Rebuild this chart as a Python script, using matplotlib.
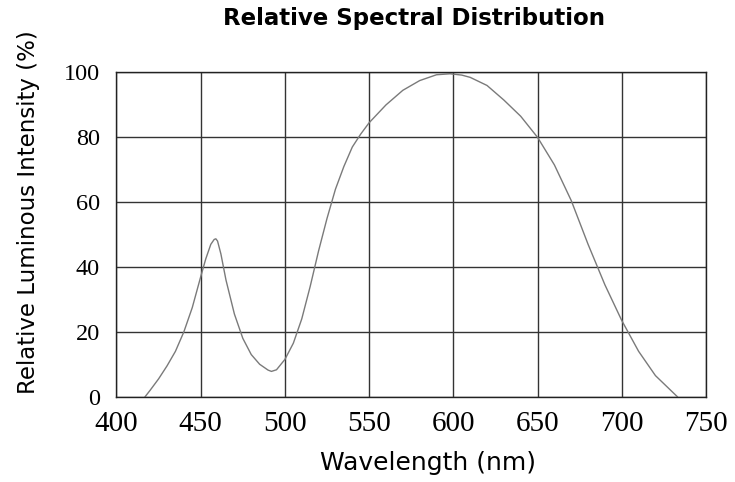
import matplotlib.pyplot as plt

# Relative spectral distribution
wavelength = [417, 420, 425, 430, 435, 440, 445, 450, 453, 456, 458, 459, 460, 462,
              465, 470, 475, 480, 485, 490, 492, 495, 500, 505, 510, 515, 520, 525,
              530, 535, 540, 545, 550, 560, 570, 580, 590, 598, 605, 610, 620, 630,
              640, 650, 660, 670, 680, 690, 700, 710, 720, 730, 733]
intensity = [0, 2, 5.5, 9.5, 14, 20, 27.5, 37, 42.5, 47, 48.5, 48.7, 48, 44,
             36, 25.5, 18, 13, 10, 8.2, 7.8, 8.3, 11.5, 16.5, 24, 34, 45, 55,
             64, 71, 77, 81, 84.5, 90, 94.5, 97.5, 99.3, 99.6, 99.2, 98.5, 96, 91.5,
             86.5, 80, 71.5, 60.5, 47, 34.5, 23.5, 14, 6.5, 1.5, 0]

x_ticks = [400, 450, 500, 550, 600, 650, 700, 750]
y_ticks = [0, 20, 40, 60, 80, 100]

fig = plt.figure(figsize=(7.35, 4.82), dpi=100)
ax = fig.add_axes([0.1585, 0.177, 0.802, 0.6726])

ax.plot(wavelength, intensity, color='#7a7a7a', linewidth=1.0)

ax.set_xlim(400, 750)
ax.set_ylim(0, 100)
ax.set_xticks(x_ticks)
ax.set_yticks(y_ticks)
ax.grid(True, color='#333333', linewidth=1.0)
ax.set_axisbelow(True)
for s in ax.spines.values():
    s.set_color('#222222')
    s.set_linewidth(1.0)

# x tick labels are drawn bigger than the y ones in the original
ax.tick_params(axis='x', length=0, pad=10, labelsize=21, labelfontfamily='Liberation Serif')
ax.tick_params(axis='y', length=0, pad=12, labelsize=17.5, labelfontfamily='Liberation Serif')

ax.set_xlabel('Wavelength (nm)', fontfamily='DejaVu Sans', fontsize=18, va='center')
ax.xaxis.set_label_coords(0.529, -0.2045)
ax.set_ylabel('Relative Luminous Intensity (%)', fontfamily='DejaVu Sans', fontsize=16.5, va='center')
ax.yaxis.set_label_coords(-0.15, 0.568)
ax.set_title('Relative Spectral Distribution', fontfamily='DejaVu Sans', fontweight='bold',
             fontsize=16.5, x=0.505, pad=34)

fig.savefig('out.png', dpi=100)
